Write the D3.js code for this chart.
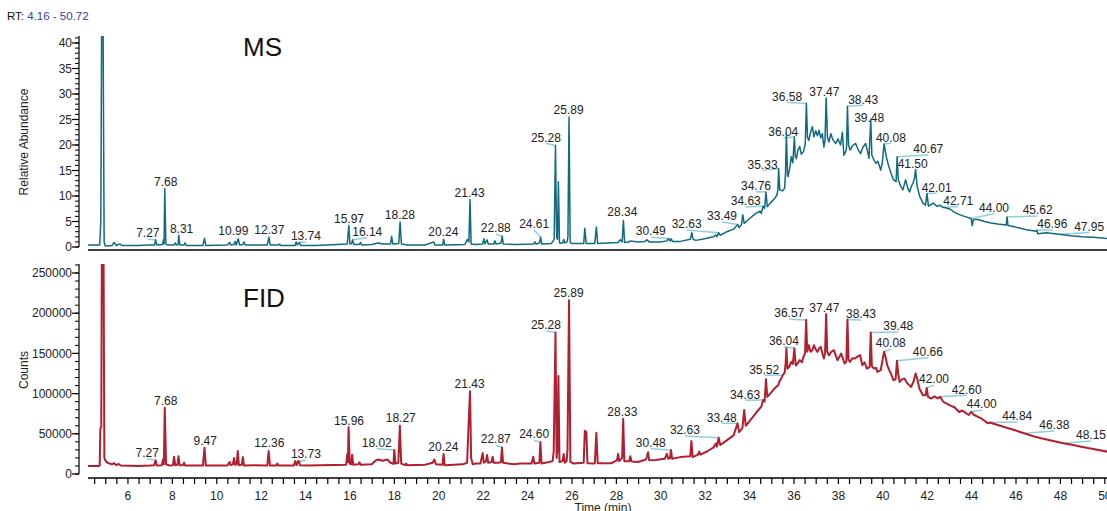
<!DOCTYPE html>
<html>
<head>
<meta charset="utf-8">
<script src="https://cdn.jsdelivr.net/npm/d3@7"></script>
<style>
  html, body { margin: 0; padding: 0; background: #fff; }
  svg { display: block; }
  text { font-family: "Liberation Sans", Arial, sans-serif; }
</style>
</head>
<body>
<svg id="chart" width="1107" height="511"></svg>
<script>
// retention time range shown
const rtRange = [4.16, 50.72];

// x axis ticks (min)
const timeTicks = d3.range(4.5, 50.6, 0.5);
const timeLabels = d3.range(6, 51, 2);

// y axis ticks
const msMajorTicks = d3.range(0, 41, 5);
const msMinorTicks = d3.range(0, 42, 1);
const fidMajorTicks = d3.range(0, 250001, 50000);
const fidMinorTicks = d3.range(0, 260001, 10000);

// MS trace: [time (min), relative abundance]
const msTrace = [
  [4.16, 0.4], [4.5, 0.4], [4.75, 0.4], [4.8, 5], [4.84, 45], [4.9, 45], [4.95, 1.0], [5.0, 0.2],
  [5.3, 0.3], [5.4, 0.9], [5.5, 0.3], [5.65, 0.6], [5.75, 0.3], [6.5, 0.3], [7.0, 0.4],
  [7.22, 0.4], [7.27, 1.4], [7.32, 0.4], [7.58, 0.5], [7.62, 1.4], [7.65, 0.6], [7.68, 11.4],
  [7.73, 0.6], [7.8, 0.4], [8.1, 0.4], [8.15, 0.8], [8.2, 0.4], [8.28, 0.5], [8.31, 2.3],
  [8.36, 0.4], [8.55, 0.4], [8.6, 0.8], [8.65, 0.3], [9.4, 0.3], [9.47, 1.7], [9.53, 0.3],
  [10.5, 0.4], [10.6, 0.9], [10.65, 0.4], [10.8, 0.5], [10.85, 1.1], [10.9, 0.4], [10.99, 1.6],
  [11.05, 0.4], [11.2, 0.5], [11.25, 1.0], [11.3, 0.4], [12.3, 0.4], [12.37, 1.9], [12.43, 0.4],
  [12.8, 0.4], [12.85, 0.6], [12.9, 0.3], [13.55, 0.3], [13.6, 1.0], [13.65, 0.4], [13.74, 0.9],
  [13.8, 0.3], [14.5, 0.3], [15.9, 0.6], [15.97, 4.2], [16.02, 0.6], [16.1, 0.7], [16.14, 1.4],
  [16.2, 0.5], [16.45, 0.5], [16.5, 0.9], [16.55, 0.4], [17.0, 0.5], [17.3, 0.8], [17.5, 0.6],
  [17.85, 0.6], [17.9, 2.1], [17.95, 0.6], [18.22, 0.7], [18.28, 4.9], [18.34, 0.6], [18.6, 0.4],
  [19.4, 0.4], [19.8, 1.0], [19.85, 0.4], [20.2, 0.4], [20.24, 1.5], [20.3, 0.4], [21.2, 0.5],
  [21.32, 1.5], [21.38, 1.0], [21.43, 9.3], [21.48, 0.6], [21.7, 0.5], [22.0, 0.6], [22.05, 1.6],
  [22.1, 0.6], [22.2, 1.4], [22.25, 0.6], [22.5, 0.6], [22.55, 1.2], [22.6, 0.6], [22.83, 0.8],
  [22.88, 2.1], [22.93, 0.6], [23.5, 0.5], [24.3, 0.6], [24.35, 1.0], [24.4, 0.6], [24.56, 0.8],
  [24.61, 1.9], [24.66, 0.6], [25.1, 0.7], [25.22, 1.5], [25.28, 19.9], [25.33, 2.0], [25.37, 1.5],
  [25.41, 12.8], [25.46, 0.8], [25.6, 0.8], [25.65, 1.5], [25.7, 0.8], [25.8, 1.0], [25.84, 2.0],
  [25.89, 25.5], [25.94, 1.0], [26.0, 0.7], [26.55, 0.7], [26.6, 3.7], [26.66, 0.7], [27.05, 0.7],
  [27.12, 3.9], [27.18, 0.7], [28.1, 0.9], [28.2, 1.4], [28.28, 1.0], [28.34, 5.2], [28.39, 0.9],
  [28.6, 1.0], [28.65, 1.2], [29.0, 1.0], [29.3, 1.1], [29.4, 1.4], [29.5, 1.0], [30.0, 1.0],
  [30.3, 1.2], [30.35, 1.6], [30.45, 1.2], [30.49, 1.6], [30.55, 1.1], [30.9, 1.1], [31.35, 1.5],
  [31.42, 2.8], [31.48, 1.5], [31.6, 1.3], [32.0, 1.6], [32.4, 2.0], [32.5, 2.4], [32.55, 2.0],
  [32.63, 2.8], [32.7, 2.3], [33.0, 3.0], [33.3, 3.5], [33.49, 4.4], [33.55, 3.8], [33.65, 4.3],
  [33.72, 6.3], [33.78, 4.6], [34.0, 5.5], [34.3, 6.6], [34.5, 7.0], [34.55, 6.6], [34.63, 8.0],
  [34.7, 7.6], [34.76, 10.8], [34.82, 7.9], [34.95, 8.6], [35.15, 9.5], [35.25, 10.2], [35.3, 11.2],
  [35.33, 15.4], [35.38, 11.2], [35.5, 11.0], [35.6, 11.5], [35.64, 14.5], [35.68, 22.3], [35.73, 14.0],
  [35.76, 13.8], [35.85, 16.0], [35.9, 17.7], [35.97, 16.5], [36.04, 21.6], [36.08, 17.8], [36.13, 17.3],
  [36.2, 19.0], [36.28, 19.7], [36.35, 18.2], [36.45, 18.7], [36.53, 20.2], [36.58, 28.2], [36.63, 21.5],
  [36.69, 20.9], [36.77, 22.5], [36.85, 23.6], [36.92, 21.6], [37.0, 22.8], [37.08, 21.8], [37.15, 22.9],
  [37.23, 21.4], [37.3, 22.2], [37.37, 19.6], [37.42, 21.0], [37.47, 29.2], [37.53, 21.5], [37.6, 20.6],
  [37.68, 22.2], [37.78, 21.0], [37.9, 20.3], [38.0, 21.2], [38.12, 20.0], [38.2, 22.5], [38.27, 18.0],
  [38.35, 18.7], [38.39, 19.5], [38.43, 27.6], [38.48, 20.0], [38.55, 19.0], [38.65, 19.8], [38.8, 20.3],
  [38.9, 19.2], [39.02, 18.3], [39.12, 19.5], [39.25, 20.3], [39.35, 18.5], [39.4, 17.4], [39.48, 25.0],
  [39.53, 18.0], [39.63, 17.0], [39.72, 16.4], [39.8, 16.8], [39.93, 15.1], [40.0, 16.5], [40.08, 20.2],
  [40.18, 17.7], [40.28, 16.0], [40.39, 14.5], [40.5, 13.2], [40.62, 12.8], [40.67, 17.7], [40.72, 13.2],
  [40.82, 12.0], [40.93, 11.2], [41.05, 13.2], [41.15, 11.5], [41.23, 10.8], [41.3, 11.8], [41.38, 12.5],
  [41.45, 13.5], [41.5, 15.2], [41.57, 11.9], [41.68, 10.0], [41.83, 8.6], [41.95, 8.2], [42.01, 10.5],
  [42.08, 8.0], [42.3, 8.6], [42.45, 8.0], [42.62, 8.2], [42.71, 7.8], [42.85, 7.7], [43.06, 7.4],
  [43.25, 6.8], [43.51, 6.3], [43.7, 6.0], [44.0, 5.6], [44.05, 4.2], [44.1, 5.4], [44.3, 5.4],
  [44.6, 5.0], [44.9, 4.7], [45.2, 4.5], [45.58, 4.3], [45.62, 5.9], [45.66, 4.2], [46.0, 3.9],
  [46.5, 3.4], [46.93, 3.1], [46.96, 3.3], [47.0, 2.6], [47.4, 2.8], [47.95, 2.5], [48.5, 2.2],
  [49.0, 2.0], [49.5, 1.9], [50.0, 1.7], [50.72, 1.5]
];

// FID trace: [time (min), counts]
const fidTrace = [
  [4.16, 10000], [4.7, 10000], [4.75, 10500], [4.78, 57000], [4.82, 58000], [4.85, 300000],
  [4.92, 300000], [4.96, 20000], [5.0, 17000], [5.1, 14000], [5.3, 12000], [5.4, 13500],
  [5.5, 11000], [5.6, 12500], [5.7, 10500], [6.5, 10000], [7.0, 10500], [7.2, 11000],
  [7.27, 17000], [7.32, 10500], [7.55, 11000], [7.6, 18000], [7.64, 12000], [7.68, 82500],
  [7.74, 12000], [7.9, 10500], [8.05, 11000], [8.1, 21500], [8.15, 11000], [8.25, 11500],
  [8.3, 22000], [8.35, 11000], [8.5, 11000], [8.55, 14000], [8.6, 10500], [9.4, 10500],
  [9.47, 32500], [9.53, 10500], [10.5, 10500], [10.6, 15000], [10.65, 11000], [10.75, 12000],
  [10.8, 20000], [10.85, 11500], [10.92, 12000], [10.97, 28500], [11.02, 11000], [11.15, 11500],
  [11.2, 21000], [11.25, 10500], [11.7, 11000], [12.3, 10500], [12.36, 28600], [12.42, 10500],
  [12.7, 10500], [12.75, 13000], [12.8, 10500], [13.5, 10500], [13.55, 16000], [13.62, 11000],
  [13.68, 16000], [13.73, 15500], [13.77, 11000], [14.1, 10500], [15.85, 11500], [15.9, 25000],
  [15.93, 15000], [15.96, 58000], [16.01, 13000], [16.08, 12000], [16.12, 24000], [16.17, 11500],
  [16.4, 12000], [16.45, 14500], [16.5, 11500], [17.0, 12000], [17.2, 17000], [17.3, 18000],
  [17.5, 16500], [17.7, 18000], [17.85, 14000], [17.98, 12500], [18.02, 30000], [18.07, 13000],
  [18.2, 14000], [18.27, 60000], [18.33, 13000], [18.5, 11000], [18.55, 13000], [18.6, 11000],
  [19.4, 11500], [19.75, 14000], [19.82, 18000], [19.9, 12000], [20.19, 11500], [20.24, 25000],
  [20.29, 11000], [21.1, 12000], [21.3, 14000], [21.36, 58000], [21.43, 103000], [21.48, 20000],
  [21.55, 12000], [21.7, 13000], [21.9, 13000], [22.0, 26000], [22.05, 14000], [22.15, 16000],
  [22.2, 23600], [22.25, 14000], [22.4, 15000], [22.45, 21500], [22.5, 14000], [22.7, 14000],
  [22.82, 14500], [22.87, 33000], [22.92, 14000], [23.4, 12000], [23.7, 13000], [24.2, 13000],
  [24.28, 21500], [24.33, 13000], [24.55, 14000], [24.6, 39400], [24.65, 13000], [25.0, 15000],
  [25.15, 16000], [25.2, 28000], [25.28, 176000], [25.33, 20000], [25.37, 30000], [25.41, 122000],
  [25.46, 15000], [25.6, 16000], [25.65, 25000], [25.7, 14000], [25.78, 16000], [25.82, 30000],
  [25.89, 216000], [25.95, 15000], [26.1, 13000], [26.55, 14000], [26.6, 53900], [26.67, 52000],
  [26.72, 13500], [27.05, 13000], [27.12, 51400], [27.18, 13500], [27.8, 13500], [28.05, 17000],
  [28.1, 25000], [28.15, 16000], [28.28, 20000], [28.33, 68400], [28.38, 16000], [28.6, 16000],
  [28.65, 22000], [28.7, 15500], [29.0, 15000], [29.35, 18000], [29.4, 22000], [29.45, 27000],
  [29.5, 17000], [29.8, 17500], [30.2, 19000], [30.3, 25000], [30.36, 19000], [30.44, 20000],
  [30.48, 30000], [30.53, 19000], [30.9, 21000], [31.35, 22000], [31.4, 41000], [31.46, 21000],
  [31.7, 24000], [31.75, 28000], [31.8, 24000], [32.1, 28000], [32.4, 33000], [32.5, 38000],
  [32.55, 34000], [32.63, 45000], [32.7, 36000], [32.9, 40000], [33.1, 44000], [33.3, 48000],
  [33.48, 63000], [33.55, 52000], [33.7, 57000], [33.78, 79600], [33.85, 60000], [34.0, 65000],
  [34.2, 72000], [34.4, 79000], [34.55, 83700], [34.63, 92000], [34.7, 90000], [34.76, 118000],
  [34.82, 96000], [34.95, 100000], [35.15, 106600], [35.3, 110000], [35.37, 115000], [35.45, 119000],
  [35.52, 123000], [35.6, 126000], [35.64, 135000], [35.68, 156300], [35.73, 131000], [35.8, 133000],
  [35.9, 139500], [35.97, 137000], [36.04, 156300], [36.1, 135000], [36.2, 138000], [36.28, 141600],
  [36.38, 139000], [36.45, 145800], [36.52, 150000], [36.57, 191500], [36.62, 152000], [36.69, 160200],
  [36.77, 152000], [36.85, 154000], [36.92, 160200], [37.0, 155000], [37.08, 151900], [37.15, 156000],
  [37.23, 158100], [37.3, 150000], [37.37, 143700], [37.42, 150000], [37.47, 199000], [37.52, 152000],
  [37.6, 147800], [37.7, 152000], [37.82, 154000], [37.92, 146000], [37.98, 141600], [38.05, 145000],
  [38.15, 149800], [38.3, 137400], [38.38, 140000], [38.43, 192300], [38.48, 142000], [38.55, 139500],
  [38.65, 144000], [38.77, 143700], [38.88, 146000], [39.0, 147800], [39.1, 135300], [39.2, 139000],
  [39.3, 131200], [39.43, 133000], [39.48, 176000], [39.53, 134000], [39.62, 131200], [39.72, 132000],
  [39.78, 127000], [39.93, 129100], [40.0, 140000], [40.08, 152000], [40.16, 144000], [40.22, 135300],
  [40.3, 130000], [40.39, 124900], [40.5, 116600], [40.6, 118000], [40.66, 141000], [40.72, 124000],
  [40.78, 114500], [40.9, 118000], [41.0, 118700], [41.12, 113000], [41.3, 108300], [41.42, 116000],
  [41.5, 124900], [41.58, 118000], [41.67, 106300], [41.83, 97900], [41.95, 98000], [42.0, 107100],
  [42.06, 96000], [42.2, 93800], [42.35, 96500], [42.5, 94000], [42.6, 96000], [42.75, 89600],
  [43.05, 85400], [43.25, 83000], [43.46, 77100], [43.6, 79000], [43.75, 76000], [43.9, 73400],
  [44.0, 77500], [44.1, 74000], [44.45, 69300], [44.76, 63000], [44.84, 64000], [45.2, 61000],
  [45.6, 57500], [45.95, 54700], [46.38, 50600], [46.8, 47000], [47.15, 44400], [47.7, 41000],
  [48.15, 38200], [48.6, 36000], [48.95, 34000], [49.5, 31000], [50.15, 27700], [50.72, 25000]
];

// labelled peaks: [retention time, apex value]
const msPeaks = [
  [7.27, 1.4], [7.68, 11.4], [8.31, 2.3], [10.99, 1.6], [12.37, 1.9], [13.74, 0.9], [15.97, 4.2],
  [16.14, 1.4], [18.28, 4.9], [20.24, 1.5], [21.43, 9.3], [22.88, 2.1], [24.61, 1.9], [25.28, 19.9],
  [25.89, 25.5], [28.34, 5.2], [30.49, 1.6], [32.63, 2.8], [33.49, 4.4], [34.63, 8.0], [34.76, 10.8],
  [35.33, 15.4], [36.04, 21.6], [36.58, 28.2], [37.47, 29.2], [38.43, 27.6], [39.48, 25.0],
  [40.08, 20.2], [40.67, 17.7], [41.50, 15.2], [42.01, 10.5], [42.71, 7.8], [44.00, 5.6],
  [45.62, 5.9], [46.96, 3.3], [47.95, 2.5]
];
const fidPeaks = [
  [7.27, 17000], [7.68, 82500], [9.47, 32500], [12.36, 28600], [13.73, 15500], [15.96, 58000],
  [18.02, 30000], [18.27, 60000], [20.24, 25000], [21.43, 103000], [22.87, 33000], [24.60, 39400],
  [25.28, 176000], [25.89, 216000], [28.33, 68400], [30.48, 30000], [32.63, 45000], [33.48, 63000],
  [34.63, 92000], [35.52, 123000], [36.04, 156300], [36.57, 191500], [37.47, 199000], [38.43, 192300],
  [39.48, 176000], [40.08, 152000], [40.66, 141000], [42.00, 107100], [42.60, 96000], [44.00, 77500],
  [44.84, 64000], [46.38, 50600], [48.15, 38200]
];

// where each peak label sits, in data units (same order as the peak lists)
const msLabelAt = [
  [6.92, 2.7], [7.72, 12.8], [8.44, 3.5], [10.77, 3.2], [12.39, 3.3], [14.04, 2.2], [15.98, 5.6],
  [16.8, 3.0], [18.27, 6.4], [20.23, 3.0], [21.41, 10.7], [22.59, 3.7], [24.32, 4.5], [24.85, 21.5],
  [25.87, 27.0], [28.29, 6.9], [29.57, 3.1], [31.19, 4.5], [32.78, 6.1], [33.85, 9.0], [34.31, 12.0],
  [34.61, 16.2], [35.54, 22.5], [35.71, 29.5], [37.39, 30.45], [39.14, 28.96], [39.41, 25.4],
  [40.39, 21.5], [42.07, 19.2], [41.37, 16.4], [42.45, 11.7], [43.42, 9.1], [45.03, 7.7],
  [47.0, 7.25], [47.66, 4.5], [49.32, 4.0]
];
const fidLabelAt = [
  [6.89, 26500], [7.72, 91200], [9.5, 41400], [12.39, 38200], [14.04, 24900], [15.98, 66300],
  [17.23, 38900], [18.31, 69300], [20.23, 34000], [21.41, 112000], [22.59, 43200], [24.32, 49400],
  [24.85, 185300], [25.87, 225500], [28.29, 77500], [29.57, 38900], [31.11, 54700], [32.77, 70500],
  [33.82, 99100], [34.68, 130200], [35.57, 165800], [35.81, 199900], [37.39, 207300], [39.04, 199000],
  [40.72, 184100], [40.38, 162600], [42.05, 152100], [42.33, 117800], [43.8, 105300], [44.48, 87100],
  [46.08, 72100], [47.75, 60900], [49.4, 48500]
];

const svg = d3.select('#chart');
const x = d3.scaleLinear().domain(rtRange).range([86.6, 1120.3]);
const plotLeft = 88;
const plotRight = 1107;
const fmt2 = d3.format('.2f');

// header
const rt = svg.append('text').attr('x', 7).attr('y', 20).attr('font-size', 11.5);
rt.append('tspan').attr('fill', '#111').text('RT: ');
rt.append('tspan').attr('fill', '#3d3d96').text(`${rtRange[0]} - ${rtRange[1]}`);

function drawPanel(cfg) {
  const { y, trace, peaks, labelAt, color, lineWidth, top, baseY, majors, minors, title, titleY, yTitle, yTitleY, id } = cfg;
  const g = svg.append('g');

  g.append('clipPath').attr('id', id)
    .append('rect')
    .attr('x', plotLeft).attr('y', top)
    .attr('width', plotRight - plotLeft).attr('height', baseY - top);

  // y axis
  g.append('line')
    .attr('x1', 79).attr('x2', 79)
    .attr('y1', top).attr('y2', y(0))
    .attr('stroke', '#000').attr('stroke-width', 1.2);
  g.selectAll('.minor').data(minors.filter(d => y(d) >= top - 0.5)).join('line')
    .attr('x1', 75).attr('x2', 79)
    .attr('y1', d => y(d)).attr('y2', d => y(d))
    .attr('stroke', '#000').attr('stroke-width', 1);
  g.selectAll('.major').data(majors).join('line')
    .attr('x1', 72).attr('x2', 79)
    .attr('y1', d => y(d)).attr('y2', d => y(d))
    .attr('stroke', '#000').attr('stroke-width', 1.2);
  g.selectAll('.ylab').data(majors).join('text')
    .attr('x', 72).attr('y', d => y(d))
    .attr('dy', '0.35em')
    .attr('text-anchor', 'end')
    .attr('font-size', 12)
    .attr('fill', '#222')
    .text(d => d);

  g.append('text')
    .attr('transform', `translate(28,${yTitleY}) rotate(-90)`)
    .attr('text-anchor', 'middle')
    .attr('font-size', 12)
    .attr('fill', '#222')
    .text(yTitle);

  g.append('text')
    .attr('x', 243).attr('y', titleY)
    .attr('font-family', '"Open Sans", "Noto Sans", sans-serif')
    .attr('font-size', 26)
    .attr('fill', '#111')
    .text(title);

  // leader lines and peak labels
  const lab = g.append('g');
  peaks.forEach((p, i) => {
    const px = x(p[0]);
    const py = y(p[1]);
    const lx = x(labelAt[i][0]);
    const ly = y(labelAt[i][1]);
    if (Math.abs(lx - px) > 6) {
      lab.append('line')
        .attr('x1', px).attr('y1', py)
        .attr('x2', lx).attr('y2', ly + 6)
        .attr('stroke', '#8fcfdc').attr('stroke-width', 1.5);
    }
    lab.append('text')
      .attr('x', lx).attr('y', ly)
      .attr('dy', '0.35em')
      .attr('text-anchor', 'middle')
      .attr('font-size', 12)
      .attr('fill', '#222')
      .text(fmt2(p[0]));
  });

  // trace
  const line = d3.line().x(d => x(d[0])).y(d => y(d[1]));
  g.append('path')
    .datum(trace)
    .attr('clip-path', `url(#${id})`)
    .attr('d', line)
    .attr('fill', 'none')
    .attr('stroke', color)
    .attr('stroke-width', lineWidth)
    .attr('stroke-linejoin', 'round');

  return g;
}

const yMs = d3.scaleLinear().domain([0, 40]).range([247, 43]);
drawPanel({
  id: 'clip-ms', y: yMs, trace: msTrace, peaks: msPeaks, labelAt: msLabelAt,
  color: '#106a80', lineWidth: 1.5, top: 36, baseY: 250,
  majors: msMajorTicks, minors: msMinorTicks,
  title: 'MS', titleY: 56, yTitle: 'Relative Abundance', yTitleY: 142
});
svg.append('line')
  .attr('x1', plotLeft).attr('x2', plotRight)
  .attr('y1', 250).attr('y2', 250)
  .attr('stroke', '#000').attr('stroke-width', 1.5);

const yFid = d3.scaleLinear().domain([0, 250000]).range([474, 273]);
drawPanel({
  id: 'clip-fid', y: yFid, trace: fidTrace, peaks: fidPeaks, labelAt: fidLabelAt,
  color: '#b21f2f', lineWidth: 2, top: 264, baseY: 477,
  majors: fidMajorTicks, minors: fidMinorTicks,
  title: 'FID', titleY: 307, yTitle: 'Counts', yTitleY: 370
});

// time axis
const xAxis = d3.axisBottom(x)
  .tickValues(timeTicks)
  .tickSize(6)
  .tickSizeOuter(0)
  .tickFormat(d => timeLabels.includes(d) ? d : '');
const ax = svg.append('g').attr('transform', 'translate(0,478)').call(xAxis);
ax.select('.domain').remove();
ax.selectAll('line').attr('stroke', '#000').attr('stroke-width', 1.2);
ax.selectAll('text').attr('font-size', 12).attr('fill', '#222').attr('font-family', '"Liberation Sans", Arial, sans-serif').attr('dy', '1.05em');
svg.append('line')
  .attr('x1', plotLeft).attr('x2', plotRight)
  .attr('y1', 478).attr('y2', 478)
  .attr('stroke', '#000').attr('stroke-width', 1.5);

svg.append('text')
  .attr('x', 603).attr('y', 512)
  .attr('text-anchor', 'middle')
  .attr('font-size', 12)
  .attr('fill', '#222')
  .text('Time (min)');
</script>
</body>
</html>
